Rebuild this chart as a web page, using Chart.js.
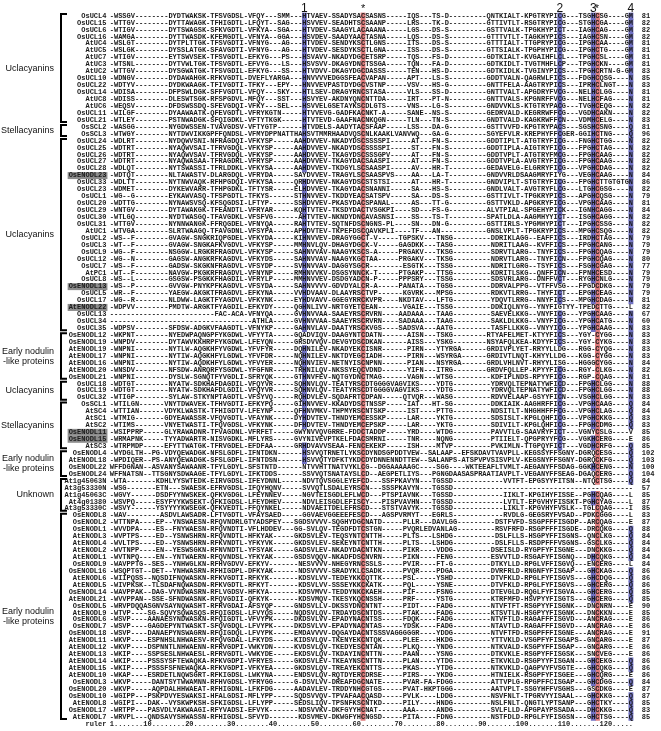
<!DOCTYPE html>
<html lang="en">
<head>
<meta charset="UTF-8">
<title>Alignment</title>
<script src="https://cdn.jsdelivr.net/npm/chart.js"></script>
<style>
  body { margin: 0; background: #fff; }
</style>
</head>
<body>
<div style="width:661px;height:731px;">
  <canvas id="aln" width="661" height="731"></canvas>
</div>
<script>
// sequence names, top to bottom
const names = [
  'OsUCL4','OsUCL15','OsUCL6','OsUCL16','AtUC4','AtUC5','AtUC7','AtUC3','AtUC2','OsUCL10',
  'OsUCL22','OsUCL14','AtUC8','AtUC6','OsUCL11','OsUCL21','OsSCL2','OsSCL3','OsUCL24','OsUCL25',
  'OsUCL26','OsUCL27','OsUCL28','OsENODL23','OsUCL33','OsUCL23','OsUCL1','OsUCL20','OsUCL29','OsUCL30',
  'OsUCL31','AtUC1','OsUCL2','OsUCL3','OsUCL9','OsUCL12','OsUCL7','AtPC1','OsUCL8','OsENODL13',
  'OsUCL5','OsUCL17','AtENODL22','OsUCL13','OsUCL34','OsUCL35','OsENODL12','OsENODL19','AtENODL19','AtENODL17',
  'AtENODL16','AtENODL20','OsENODL21','OsUCL18','OsUCL19','OsUCL32','OsSCL1','AtSC4','AtSC1','AtSC2',
  'OsENODL11','OsENODL15','AtSC3','OsENODL4','AtENODL18','OsENODL22','OsENODL24','At1g45063N','At3g53330N','At1g45063C',
  'At4g01380','At3g53330C','OsENODL8','OsENODL2','OsENODL1','AtENODL3','AtENODL4','AtENODL2','AtENODL1','OsENODL9',
  'OsENODL16','AtENODL6','AtENODL5','OsENODL14','AtENODL21','OsENODL5','AtENODL9','OsENODL6','OsENODL7','OsENODL18',
  'AtENODL11','AtENODL12','AtENODL13','AtENODL14','AtENODL15','AtENODL10','OsENODL3','OsENODL20','OsENODL10','AtENODL8',
  'OsENODL17','AtENODL7'
];

// aligned sequences, split into blocks at the marked columns (1, *, 2, 3*, 4)
const sequences = [
  "-WSSGV--------DYDTWAKSK-TFSVGDSL-VFQY---SMM--- H TVAEV-SSADYSA C SASNS-----IQS---TS-D---------QNTKIALT-KPGTRYPI C G---TSG H C SG----G M",
  "-WTTGV--------DYTTAWAGK-TFHIGDTL-LFQYT--SAG--- H SVVEV-SEADHTS C SAANP-----LRS---TK-D---------GTTIVTLT-RSGTRYPI C G---STG H C GA----G M",
  "-WTIGV--------DYTSWAGSK-SFKVGDTL-VFKYA--SGA--- H TVDEV-SAAGYLA C AAANA-----LGS---DS-S---------GSTTVALK-TPGKHYPI C T---IAG H C AG----G M",
  "-WAMGA--------DYTTWASDK-KFEMGDTL-VFNYA--GGA--- H SVDEV-SAADYAA C TASNA-----LQS---DS-S---------GTTTVTLT-TAGKHYPI C S---IAG H C SN----G M",
  "-WSLGT--------DYTPLTTGK-TFSVGDTI-VFNYG---AG--- H TVDEV-SENDYKS C TLGNS-----ITS---DS-S---------GTTTIALT-TTGPRYPI C G---IPG H C AA----G M",
  "-WSLGK--------DYSSLATGK-SFAVGDTI-VFNYG---AG--- H TVDEV-SESDYKS C TLGNA-----ISS---DS-S---------GTTSIALK-TPGPHYPI C G---IPG H C TG----G M",
  "-WTIGV--------EYTSWVSEK-TFSVGDTL-EFKYG---PS--- H SVAVV-NKADYDG C ETSRP-----TQS---FS-D---------GDTKIALT-KVGAIHFL C L---TPG H C SL----G M",
  "-WTSNL--------DYTVWLTGK-TFSVGDTL-EFVYG---LS--- H SVSVV-DKAGYDN C TSSGA-----TQN---FA-D---------GDTKIDLT-TVGTMHFL C P---TPG H C KN----G M",
  "-WTTGV--------DYSGWATGK-TFSVGDIL-EFKYG---SS--- H TVDVV-DKAGYDG C DASSS-----TEN---HS-D---------GDTKIDLK-TVGINYPI C S---TPG H C RTN-G-G M",
  "-WDNGV--------DYDAWAHGK-RFKVGDTL-DVEFLYARGA--- H NVVVVEDGGSFEA C VAPAN-----APT---LS-S---------GDDTVALN-QAGRWLFI C S---FDG H C QSG---- N",
  "-WDTYV--------DYDKWAAGK-TFIVGDTI-TFKY---EPY--- H NVVEVPASTDYDG C VSTNP-----VSV---HS-G---------GNTTFELA-AAGTRYPI C S---IPR H C LNGT--- N",
  "-WDISA--------DFPSWLDGK-SFFVGDTL-VFQY---SKY--- H TLSEV-DRAGYRN C STASA-----VLS---SS-D---------GNTTVALT-APGDRYFV C G---NEL H C LGG---- N",
  "-WDISS--------DLESWTSGK-RFSPGDVL-MFQY---SST--- H SVYEV-AKDNYQN C NTTDA-----IRT---PT-N---------GNTTVALS-KPGNRFFV C G---NEL H C FAG---- N",
  "-WEQSV--------DFDSWSSDQ-SFEVGDQI-VFKY---SEL--- H SVVELGSETAYKS C DLGTS-----VNS---LG-S---------GNDVVKLS-KTGTRYPA C G---TVG H C EQG---- N",
  "-WILGF--------DYAAWAATK-QFEVGDTL-VFRYKGTN----- H TVVEVG-GADFKA C NKT-A-----SANE--NS-S---------GEDRVALD-KEGRRWFF C G---VGD H C AKN---- N",
  "-WTLEY--------PSTNWADGK-SFQIGDKL-VFTYTKGK----- H TVTEVD-GAAFNA C NKQGN-----TLN---TN-S---------GNDTVALD-KAGKRWFF C N---VDM H C ELG---- N",
  "-WASGG--------NYGDWSSEN-TVAVGDSV-VFTYGTP------ H TVDELS-AADYTA C SFAAP-----LSS---DA-G---------GSTTVVFD-KPGTRYPA C S---SGS H C SNG---- Q",
  "-WTWGY--------NYTDWVIKKGPFFQNDSL-VFMYDPPNATTHA H SVTMMRHAADVQS C NLKAAKLVANVWQ---GA-G---------SGYEFVLR-KREPHYFF C GER-GGI H C TNG---- Q",
  "-WDLRT--------NYDQWVSNI-NFRAGDQI-VFKYSP-----AA H DVVEV-NKADYDS C SSSSPI-----AT---FN-S---------GDDTIPLT-ATGTRYFI C G---FNG H C TGG---- N",
  "-WDTRT--------NYAQWVSAI-TFRVGDQL-VFKYSP-----AA H DVVEV-NKADYDS C SSSSPI-----ST---FN-S---------GDDTIPLA-AIGTRYFI C G---FPG H C TAG---- N",
  "-WDTRT--------NYAQWVSAV-TFRVGDQL-VFKYSP-----AA H DVVEV-TKAGYDS C SSSGPV-----AT---FN-S---------GDDTVPLT-ATGTRYFM C G---FPG H C AAG---- N",
  "-WDTRT--------NYAQWASAA-TFRAGDRL-VFRYSP-----AA H DVVEV-TKAGYDA C SAASPI-----AT---FN-S---------GDDTVPLA-AVGTRYFI C G---FPG H C AAG---- N",
  "-WDLQT--------NYTSWASSI-TFRLDDKL-VFKYSA-----AA H DVVEV-TKDGYLS C SAASPI-----AV---HR-T---------GEDAVELG-ELGRRYFI C G---VPG H C DAG---- N",
  "-WDTQT--------NLTAWASTV-DLARGDQL-VFRYDA-----SA Y DVVEV-TRAGYLS C SAASPVS----AA---LA-T---------GNDVVRLDSAAGMRYFI Y G---VEG H C AAG---- N",
  "-WDLTT--------NYTNWVAQK-RFHPGDQI-VFKYSA-----QR H DVVEV-NKAGYDS C STSTSI-----AT---HR-T---------GNDVIPLT-STGTRYFI C G---FPG H C TTGTGTG N",
  "-WDMET--------DYKEWVARR-TFHPGDKL-TFTYSR-----EL H DVVEV-TKAGYDA C SNANNI-----SA---HS-S---------GNDLVALT-AVGTRYFL C G---LTG H C GSG---- N",
  "-WG--G--------EYKAWVASQ-TFSPGDTL-TFKYS------ST H NVVEV-TKDDYEA C SATSPV-----SA---DS-S---------GSTTIVLT-TPGKRYPI C S---APG H C QSG---- N",
  "-WDTTG--------NYNAWSVSQ-KFSQGDSI-LFTYP------SS H DVVEV-PKASYDA C SPANAL-----AS---TT-G---------GSTTVKLD-APGKRYFI C G---VPG H C AAG---- N",
  "-WNTGV--------DYTAWAKGK-TFEANDTL-VFRYAR-----KQ H TVTEV-TKSDYDA C TVSGKPI----SD---FS-G---------ALVTPIAL-SPGEHYPI C K---IGN H C AGG---- N",
  "-WTLGQ--------NYDTWASGQ-TFAVGDKL-VFSFVG------A H TVTEV-NKNDYDN C AVASNSI----SS---TS-T---------SPATLDLA-AAGMHYYI C T---ISG H C AGG---- N",
  "-WTTGV--------NYNNWANGK-FFRQGDEL-VFNYQA-----RA H TVTEV-SQTNFDS C NGNS-PL----SN---DN-G---------GSTTIRLS-YPGMHYPI C T---IPG H C SSG---- N",
  "-WTVGA--------SLRTWAAGQ-TFAVGDNL-VFSYPA-----AP H DVTEV-TKPEFDS C QAVKPLI----TF---AN-----------GNSLVPLT-TPGKRYPI C S---MPG H C SQG---- N",
  "-WS--F--------GVAGW-SNGKRIQPGDEL-VFKYDA-----KI H NVVEV-DRAGYGG C T-V-----TGPSKV---TNSG---------DDRIKLAGG--EAFFI C S---IRD H C TAG---- N",
  "-WT--F--------GVAGW-SNGKAFKVGDVL-VFKYSP-----MM H NVLQV-DHAGYDG C K-V-----GAGDKK---TASG---------NDRITLAAG--KVFFI C S---FPG H C ANG---- N",
  "-WG--F--------NSGGW-LRGKRFRAGDVL-VFKYSP-----SA H NVVAV-NAAGYKS C S-A-----PRGAKV---TKSG---------SDRVTLARG--TNYFI C S---FPG H C QAG---- N",
  "-WG--N--------GAGSW-ANGKRFKAGDVL-VFKYDS-----SA H NVVAV-NAAGYKG C TAA-----PRGAKV---TKSG---------NDRVTLARG--TNYFI C N---FPG H C QAG---- N",
  "-WS--F--------GADSW-SKGKNFRAGDVL-VFSYDP-----SV H NVVAV-DAGGYSG C R--------ESGTK---TSSG---------NDRITLGRG--TSYFI C S---FSG H C GAG---- N",
  "-WT--F--------NAVGW-PKGKRFRAGDVL-VFNYNP-----RM H NVVKV-DSGSYNN C K-T-----PTGAKP---TTSG---------KDRITLSKG--QNFFI C N---FPN H C ESD---- N",
  "-WS--L--------GSGSW-PSGKKFHAGDIL-VFRYLP-----MM H NVVEV-DSDGYAD C N-P-----PPPSRY---TSSG---------SDSVRLARG--DNFFV C T---RYG H C NLG---- N",
  "-WS--P--------GVVGW-PNYKPFKAGDVL-VFSYDA-----SA H NVVVV-GDVDYAL C R-A-----PANATA---TGSG---------DDRVALPPG--VTFFV S G---FPG D C DKG---- N",
  "-WR--F--------YAEGW-AKGKTFRAGDVL-EFKYNA-----VV H DVAAV-DLAAYRS C TVP------KGVRK---MPSG---------RDKVTLRRG--THYFI C T---EPG H C EAG---- N",
  "-WG--R--------NLDWW-LAGKTFYAGDVL-VFKYNK-----EY H DVAVV-GGEGYRR C KVPR----NKDTAV---LFTG---------YDQVTLRRG--NNYFI C S---MPG H C DAG---- N",
  "-WDPVV--------PMDTW-ARGKTFYAGDIL-EFKYDY-----QG H NLIVV-NRTGYET C EAN------VGAIE---TSSG---------DDKIQLNYG--YNYFI G TYY-TPE D C TTG---- L",
  "-------------------------FAC-ACA-VFNYQA-----GV H NVVAA-SAAEYRS C RVRN----AADAAA---TAAG---------SAEVELKKG--VNYFI C G---YPG H C AAG---- N",
  "----------------------------------ATHLA-----GV H NVVAA-SAAEYRS C RVRN----SADAAA---TAAG---------SAKLDLKKG--VNYFI C G---YPG H C ATG---- N",
  "-WDPSV--------SFDSW-ADGKVFAAGDTL-VFNYKP-----GA H NVLAV-DAATYRS C KVGS----SADSVA---AATG---------TASFLLKKG--VNYYI C G---YPG H C AAG---- N",
  "-WKPNT--------NYEDWPAQNGPFYKGDWL-VFYYTA-----GQ A DVIQV-DAAGYNT C DATN------AISN---TSKG--------RTYAFELMET-KTYYFI C S---YGY - C YGG---- N",
  "-WNPDV--------DYTAWVKKHRPFYKGDWL-LFEYQN-----GR S DVVQV-DEVGYDS C DKAN------AISS---YSKG--------NSYAFQLKEA-KDYYFI C S---YGY - C YKG---- N",
  "-WNPNI--------NYTLW-AQGKHFYVGDWL-YFVFYR-----DQ H NILEV-NKADYEK C ISNR------PIRN---YTYRGA------GRDIVPLYET-RRYYLL D G---RGG - C YQG---- N",
  "-WNPNI--------NYTIW-AQGKHFYLGDWL-YFVFDR-----NQ H NILEV-NKTDYEG C IADH------PIRN---WSYRGA------GRDIVTLNQT-KHYYLL D G---KGG - C YGG---- N",
  "-WNPNI--------NYTIW-AQDKHFYLGDWL-YFVYER-----NQ H NVIEV-NETNYIS C NPNN------PIAN---NSYRGA------GRDLVHLNVT-RHYYLI S G---HGG G C YGG---- N",
  "-WNSDV--------NFSDW-ANRQRFYSGDWL-YFGFNR-----TR H NILQV-NKSSYEQ C VDND------YIFN---ITRG--------GRDVFQLLEP-KPYYFI C G---RGY - C LKG---- N",
  "-WNPNI--------DYSLW-SGNQTFYVGDLI-SFRYQK-----GT H NVFEV-NQTGYDN C TMAG------VAGN---WTSG---------KDFIPLNDS-RPYYFI C G---RGP - C QAG---- N",
  "-WDTGT--------NYATW-SDKHAFDAGDIL-VFQYVR-----SQ H NVLQV-TEATYRS C DTGGGGVAGVIKS----YDTG---------YDRVQLTEPNATYWFI C D---FPG H C LGG---- N",
  "-WDTGT--------NYATW-SDKHAFDLGDIL-VFQYVR-----SQ H NVLQV-TEATYRS C DTGGGGVAGVIKS----YDTG---------YDRVQLTEPNATYWFI C D---FPG H C LGG---- N",
  "-WTIGP--------SYLAW-STKYNPTAGDTL-VFSYVQ-----RQ H DVLEV-SQDAFRT C DPAN-----QTVQR---WASG---------RDVVELAAP-GSYYFI C N---VSG H C LGG---- N",
  "-WTILGN------VNYTDWAVEK-TFHVGDTI-EFKYPQ-----GI H NVVEV-KKADYDS C TNSSP-----IAT---HT-SG---------DDKIAIK-AAGHRFFI C G---VPG H C AAG---- Q",
  "-WTTIAN------VDYKLWASTK-TFHIGDTV-LFEYNP-----QF H NVMKV-THPMYRS C NTSKP-----IST----PTTG---------NDSITLT-NHGHHFFF C G---VPG H C LAG---- Q",
  "-WTMIG-------GDYEAWASSR-VFQVGDTL-VFAYNK-----DY H DVTEV-THNDYEM C ESSKP-----LAR----YKTG---------SDSISLT-KPGLQHFI C G---VPG H C KKG---- Q",
  "-WTIMS-------VNYETWASTI-TFQVGDSL-VFKYNK-----DF H DVTEV-THNDYEM C EPSKP-----LAR----YKTG---------SDIVILT-KPGLQHFI C G---FPG H C DMG---- Q",
  "-WSIPPRP-----GLYRAWADNR-TFVAGDNL-VFRFET-----GW Y NVVQVGRRE-FDD C TADDP-----YRD----WTDG---------PAVVTLG-SAAVRYFI C T---VGN Y C SLG---- V",
  "-WRMAPNK-----TYYADWARTR-NISVGDKL-MFLYRS-----GV Y NIVEVPTKELFDA C SMRNI-----TNR----NQNG---------PTIIELT-QPGPRYYF C G---VGK H C ERG---- E",
  "-WTRPMDP-----EFYTTWATGK-TFRVGDEL-EFDFAA-----GR H DVAVVSEAA-FEN C EKEKP-----ISH----MTVP---------PVKIMLN-TTGPQYFI C T---VGD H C RFG---- Q",
  "-WYDGLTH--PG-VDYQEWADGK-NFSLGDFL-IFNTDKN------ H SVVQTRNETLYKS C DYNDSGPDDTVEW--SALAAP--EFSKDAVTVAVPLL-KEGSSYFF S GNY-DGR Q C ESG---- Q",
  "-WPDIQER--PS-ANYQEWADGK-SFSLGDFL-IFNTDSN------ H SVVQTYDFKTYKD C DYDNNENNDTTEW--SALANPS-ATSPVPVSISVPLV-KEGSNYFF S GNY-DGR Q C KFG---- Q",
  "WFFDGNAN--ASVANYSAWAANR-TFYLGDYL-SFSTNTD------ N TVVHTTNATVYKL C G--DGGAAAAAGC----SGG----WKTEEAFLTVMLT-AEGANYFF S DAG-GGK H C ENG---- N",
  "WFFNATSN--TTSGNYSDWAAGE-TFYLGDYL-IFKTDDS------ S SVVQTSNATAYSL C D--AEGPETLIYS---PGNGDAASASPRAATIAVPLT-VEGANYFF S EAG-DGA Q C ERG---- Q",
  "-WTA-------KDHLYYSWTEDK-EIRVGDSL-IFEYDNNL----- N DVTQVSGGLEYEF C D---SSFPKAVYN---TGSSD------------VVTFT-EPGSYYF I TSN--NT Q C TSG---- Q",
  "-WSG-------ETN---SWAESK-EFRVGDSL-IFQYHQNV----- S VVQTLSDALEYRS C N---SSSPKAVYN---TGSSD------------------------- - ------- - - ------- -",
  "-WGVY------DSDFYYNWSKEK-QFKVGDGL-LFEYNNEV----- N GVTEISGDLEFLW C D---PTSPIAVNK---TGSSD------------IIKLT-KPGIHYF I SSE--PG H C QAG---- L",
  "-WSVPQ-----ESYFYYKWSEKT-QFKIGDSL-LFEYDHEV----- N DVLEISGDLEFIS C Y---PISPVAVHN---TGSSD------------LVTLT-EPGVHYF I SSKT-PG H C YAG---- L",
  "-WSVY------YSYYYYKWSEGK-QFKVEDTL-FFQYNKEL----- N DVAEITDELEFRS C D---STSTVAVYK---TGSSD------------LIKLT-KPGVHYF V SLK--TG L C QAG---- I",
  "-WAV--------ASDVLAWSADR-LFTVGDTL-VFAYSAED----- G GVAEVGGEEEFES C D---AGSPVRMYT---EGRLS------------RVDLG-GEGSRYF V SAD--PD K C GGG---- L",
  "-WTTNPA----EP--YNSWAESN-RFQVNDRLGTYADSPEY---SG D SVVVV-SQGHYDG C NATD-----PLLR---DAVLGG---------DSTFVFD-SSGPFFF I SGDP--A R C QAG---- E",
  "-WVVDPA----ES--FNYWAESN-RFQVNDTI-VFLHDDEV---GG - SVLQV-TEGDFDT C STGN-----PVQRLEDVANLAG---------RSVFRFD-RSGPFFF I SGDE--D R C QKG---- Q",
  "-WVPTPS----ED--YSNWSHRN-RFQVNDTL-HFKYAK-----GK D SVLEV-TEQSYNT C NTTH-----PLTS---LSHDG----------DSLFLLS-HSGPYFF I SGNS--Q N C LKG---- Q",
  "-WVLTPS----ED--YSNWSHRN-RFKVNDTL-YFKYVK-----GK D SVLEV-SEKEYNT C NTTH-----PLTS---LSHDG----------DSLFLLS-RSDPFFF V SGNS--G S C LKG---- Q",
  "-WVTNPP----EN--YESWSGKN-RFNVNDTL-YFSYAK-----GA D SVLEV-NKADYDA C NTKN-----PIKR----VDDG---------DSEISLD-RYGPFYFI S GNE---D N C KKG---- Q",
  "-WVTNPQ----EN--YNTWAERN-RFQVNDSL-YFKYAK-----GS D SVQQV-NKADFDS C NVRN-----PIKN----FENG---------ESVVTLD-RSGAFYFI S GNQ---D H C QKG---- Q",
  "-WAVPPTG--SES--YNHWGLKN-RFHVGDVV-EFKYV-------N E SVVVV-NHEGYRN C SSLS-----PVIR----FT-G---------DTKYLLD-RPGLVFFI S GVQ---E N C ERG---- L",
  "-WSQPTGT--DET--YNHWASRN-RFHIGDPL-DFKYAK------N D SVVVV-SRADYKL C SADK-----PVQR----PDGA---------DVRFRLD-RNGNFYFI S GAP---G H C KAG---- Q",
  "-WIIPQSS--NQSDIFNQWASKN-RFKVGDTI-RFKYK-------K D SVLVV-TEDEYKK C QTTK-----PSL-----YSHD---------DTVFKLD-RPGLFYFI S GVS---G H C DQG---- Q",
  "-WIVPKSK--TLSDAFNQWASDN-RFKVGDTL-RFKYT-------K D SVLVV-SSSEYKK C KATK-----PQL-----YSNE---------DTVFKLD-RPGLFYFI S GVS---G H C ERG---- Q",
  "-WAVPPAK--DAG-VYNDWASRN-RFLVGDSV-HFKYA-------K D SVMVV-TEDDYNK C KAEH-----PIF-----FSNG---------DTEVGLD-RQGLFYFI S GVA---G H C ERG---- Q",
  "-WVVPPAN--SSE-SFNDWASNK-RFQVGDII-QFKYK-------K D SVMQV-TKESYKQ C NSSH-----PRF-----YSTG---------KTRFMFD-HSVPYYFI S GTS---G H C ERG---- Q",
  "-WRVPDQQASGNVSAYNQWASHT-RFRVGDAI-AFSYQP-----GN D SVLLV-DKSSYDN C NTNT-----PIDT----FADG---------NTVFTFT-RSGPYYFI S GNK---D N C NRN---- E",
  "-WTVP----SG-SQVYSQWASQS-RFQIGDSL-LFVYQS-----NQ D SVLQV-TRDAYDS C NTDS-----PTAK----FADG---------KTSVTLN-HSGPYYFI S GNK---D N C KKN---- E",
  "-WSVP----AANAESYNDWASKN-RFQIGDTL-VFVYPK-----DK D SVLVV-EPADYNA C NTSS-----FDQK----FADG---------NTVFTLD-RAGAFFFI S GVD---A N C RAG---- E",
  "-WSVP----GAGDEPYNTWASKT-SFQVGDQL-LFVYPK-----DK D SVLVV-EPADYNA C NTAS-----YDSK----FADG---------NTAVTLD-RAGAFFFI S GVD---A N C RAG---- E",
  "-WSVP----DANAEPYNSWAGRN-RFQIGDQL-LFVYPK-----EM D AVVVV-DQGAYDA C NTSSSVAGGGGGR----YDDG---------NTVFTFD-RSGPFFFI S GNE---A N C RAG---- E",
  "-WKVP----ESPNHSLNHWAESV-RFQVGDAL-LFKYDS-----KI D SVLQV-TKENYEK C NTQK-----PLEE----HKDG---------YTTVKLD-VSGPFYFI S GAPS--G N C ARG---- E",
  "-WKVP----DSPNNTLNHWAENN-RFRVGDPI-VWKYDN-----KV D SVLQV-TKEDYES C NTAN-----PLKQ----YNDG---------NTKVALD-KSGPYFFI S GAP---G N C ARG---- E",
  "-WKIP----SSPSESLNHWAESL-RFRVGDTL-VWKYDE-----EK D SVLQV-TKDAYIN C NTTN-----PAAN----YSNG---------DTKVKLE-RSGPYFFI S GSK---S N C VEG---- E",
  "-WKIP----PSSSYSFTEWAQKA-RFKVGDPI-VFRYES-----GK D SVLEV-TKEAYNS C NTTN-----PLAN----YTDG---------ETKVKLD-RSGPYYFI S GAN---G H C EKG---- Q",
  "-WKIP----PSSSFSFNEWAQKA-RFKVGDPI-VFKYEA-----GK D SVLQV-TREAYEK C NTTS-----PKAS----YTDG---------NTKVKLD-QAGPVYFV S GTE---G H C QKG---- Q",
  "-WKAP----ESRDETLNQWSGRT-RFKIGDSL-LWKYNA-----EN D SVLQV-RQTDYER C DRSE-----PIRS----YKDG---------HTNIELK-RSGPFYFI S GEE---G H C QRG---- E",
  "-WKVP-----DANTSYTWWAMNN-RFHVGDSL-YFRYGG-----G- D SVLVV-DREAFDG C NATE-----PVAR-FA-FDGG---------ATTVPLG-RPGPFFCI S GAP---G H C DGG---- Q",
  "-WKVP-----AQPDALHHWAEAT-RFHIGDNL-LFKFDG-----AA D AVLEV-TRDDYNH C GTGS-----PVAT-HKPTGGG---------AATVPLT-SSGYHFFV S GHS---G S C DKG---- E",
  "-WGIPP---PSKPDVYESWAKSI-HFALGDSI-MFLYPP-----SQ D SVVQV-TPVAFAA C QASD-----PVLK----LDDG---------NSVFNLT-TPGRVYYI S AAL---G H C KKG---- Q",
  "-WGIPI---DAK--VYSKWPKSH-SFKIGDSL-LFLYPP-----SE D SLIQV-TPSNFKS C NTKD-----PILY----HNDG---------NSLFNLT-QNGTLYPT S ANP---G H C TKY---- Q",
  "-WRTPP---PASVDLYAKWAAGI-RFYVADSI-EFVYK-------N D SVVKV-DKFGYYH C NAT------AAA-----ANDG---------SVLFLLD-APGPAYPS S ADA---D H C KKG---- Q",
  "-WRVPL---QNDSAVYSHWASSN-RFHIGDSL-SFVYD-------K D SVMEV-DKWGFYH C NGSD-----PITA----FDNG---------NSTFDLD-RPGLFYFI S GSN---G H C TSG---- Q"
];

// sequence lengths printed at the right
const lengths = [
  81,82,82,82,81,81,81,81,83,85,83,81,81,82,82,83,81,96,82,82,82,82,82,84,86,
  82,79,81,84,82,82,82,79,79,79,80,77,79,79,79,79,81,82,67,60,83,83,83,83,83,84,
  82,81,88,88,83,84,84,83,83,85,86,85,102,103,100,104,84,57,85,87,85,83,87,88,84,84,
  84,84,84,86,86,86,85,85,90,85,86,86,91,87,86,86,86,86,86,84,87,87,85,83,85
];

// protein families (first / last row of each bracket)
const groups = [
  { lines: ['Uclacyanins'], first: 0, last: 15 },
  { lines: ['Stellacyanins'], first: 16, last: 17 },
  { lines: ['Uclacyanins'], first: 18, last: 45 },
  { lines: ['Early nodulin', '-like proteins'], first: 46, last: 52 },
  { lines: ['Uclacyanins'], first: 53, last: 55 },
  { lines: ['Stellacyanins'], first: 56, last: 62 },
  { lines: ['Early nodulin', '-like proteins'], first: 63, last: 66 },
  { lines: ['Unknown'], first: 67, last: 71 },
  { lines: ['Early nodulin', '-like proteins'], first: 72, last: 101 }
];

const shadedNames = ['OsENODL23', 'OsENODL13', 'AtENODL22', 'OsENODL11', 'OsENODL15'];

// conserved columns: position, residues that get coloured, colour name
const keyColumns = [
  { pos: 47, res: 'H', tint: 'blue', label: '1' },
  { pos: 61, res: 'C', tint: 'red', label: '*' },
  { pos: 108, res: 'C', tint: 'blue', label: '2' },
  { pos: 116, res: 'H', tint: 'blue', label: '3' },
  { pos: 117, res: 'C', tint: 'red', label: '*' },
  { pos: 125, res: 'MNQ', tint: 'blue', label: '4' }
];

const rulerTicks = [1, 10, 20, 30, 40, 50, 60, 70, 80, 90, 100, 110, 120];
const RULER_LEN = 125;

// block widths of the split sequences
const blockWidths = [46, 1, 13, 1, 46, 1, 7, 1, 1, 7, 1];

const COLORS = { blue: '#6f70c3', red: '#e07d7d' };
const MONO = 'bold 7px "Liberation Mono", "DejaVu Sans Mono", monospace';
const SANS = '"Liberation Sans", Arial, sans-serif';

function fitBlock(s, n) {
  return s.length >= n ? s.slice(0, n) : s + '-'.repeat(n - s.length);
}
const aligned = sequences.map(r => r.split(' ').map((b, i) => fitBlock(b, blockWidths[i])).join(''));

const rowLabels = names.concat(['ruler']);

const datasets = keyColumns.map(k => ({
  label: 'col' + k.pos,
  data: rowLabels.map((n, i) => {
    const s = aligned[i];
    if (!s) return null;
    return k.res.includes(s[k.pos - 1]) ? [k.pos - 0.5, k.pos + 0.5] : null;
  }),
  backgroundColor: COLORS[k.tint],
  borderWidth: 0,
  grouped: false,
  barPercentage: 1,
  categoryPercentage: 1
}));

const textPlugin = {
  id: 'alignmentText',
  afterDatasetsDraw(chart) {
    const { ctx, scales: { x, y } } = chart;
    ctx.save();
    ctx.textBaseline = 'middle';

    const nameRight = x.getPixelForValue(-0.3);

    aligned.forEach((s, i) => {
      const yy = y.getPixelForValue(i);
      ctx.font = MONO;
      // name
      if (shadedNames.includes(names[i])) {
        const w = ctx.measureText(names[i]).width;
        ctx.fillStyle = '#8c8c8c';
        ctx.fillRect(nameRight - w - 1, yy - 3.5, w + 2, 7);
      }
      ctx.fillStyle = '#1a1a1a';
      ctx.textAlign = 'right';
      ctx.fillText(names[i], nameRight, yy);
      // residues
      ctx.textAlign = 'center';
      for (let p = 1; p <= s.length; p++) {
        ctx.fillText(s[p - 1], x.getPixelForValue(p), yy);
      }
      // length
      ctx.textAlign = 'left';
      ctx.fillText(String(lengths[i]), x.getPixelForValue(127.6), yy);
    });

    // ruler
    const ry = y.getPixelForValue(names.length);
    const rulerChars = Array(RULER_LEN).fill('.');
    rulerTicks.forEach(t => {
      const str = String(t);
      for (let k = 0; k < str.length; k++) rulerChars[t - str.length + k] = str[k];
    });
    ctx.font = MONO;
    ctx.textAlign = 'right';
    ctx.fillText('ruler', nameRight, ry);
    ctx.textAlign = 'center';
    rulerChars.forEach((c, k) => ctx.fillText(c, x.getPixelForValue(k + 1), ry));

    // column labels on top
    ctx.fillStyle = '#111';
    ctx.textBaseline = 'alphabetic';
    keyColumns.forEach(k => {
      const xx = x.getPixelForValue(k.pos);
      if (k.label === '*') {
        ctx.font = '11px ' + SANS;
        ctx.textAlign = 'center';
        ctx.fillText('*', xx + (k.pos === 117 ? -0.5 : 0), 12);
      } else {
        ctx.font = '12px ' + SANS;
        ctx.textAlign = 'center';
        ctx.fillText(k.label, xx, 12);
      }
    });

    // family brackets and labels
    ctx.strokeStyle = '#000';
    ctx.lineWidth = 2;
    ctx.font = '9px ' + SANS;
    ctx.textAlign = 'right';
    ctx.textBaseline = 'middle';
    groups.forEach(g => {
      const top = y.getPixelForValue(g.first) - 2;
      const bot = y.getPixelForValue(g.last) + 2;
      ctx.beginPath();
      ctx.moveTo(67, top);
      ctx.lineTo(61, top);
      ctx.lineTo(61, bot);
      ctx.lineTo(67, bot);
      ctx.stroke();
      const mid = (top + bot) / 2;
      const lh = 10;
      g.lines.forEach((line, j) => {
        ctx.fillText(line, 54, mid + (j - (g.lines.length - 1) / 2) * lh);
      });
    });
    ctx.restore();
  }
};

new Chart(document.getElementById('aln'), {
  type: 'bar',
  data: { labels: rowLabels, datasets: datasets },
  options: {
    indexAxis: 'y',
    responsive: false,
    animation: false,
    layout: { padding: { top: 12.5, bottom: 3.7, left: 0, right: 0 } },
    plugins: { legend: { display: false }, tooltip: { enabled: false } },
    scales: {
      x: { type: 'linear', min: -25.73, max: 132.18, display: false },
      y: { type: 'category', display: false, offset: true }
    }
  },
  plugins: [textPlugin]
});
</script>
</body>
</html>
